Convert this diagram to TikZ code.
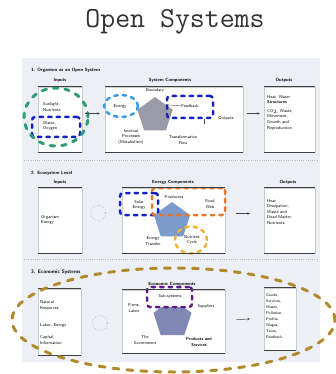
\documentclass[tikz,border=0pt]{standalone}
\usetikzlibrary{shapes.geometric,arrows.meta}
\definecolor{panel}{HTML}{EDEFF7}
\definecolor{hlgreen}{HTML}{2E9C74}
\definecolor{hlblue}{HTML}{1420C4}
\definecolor{hlsky}{HTML}{3A9BE8}
\definecolor{hlorange}{HTML}{E2782E}
\definecolor{hlyellow}{HTML}{F1B234}
\definecolor{hlpurple}{HTML}{5E1A8C}
\definecolor{hlgold}{HTML}{B08A2C}
\definecolor{pgrey}{HTML}{9A9AA8}
\definecolor{psteel}{HTML}{7B9BCB}
\definecolor{pslate}{HTML}{8088B4}
\tikzset{
  box/.style={draw=gray!40, fill=white, line width=0.4pt, inner sep=0pt},
  boxedge/.style={black!75, line width=0.9pt},
  hdr/.style={font=\sffamily\bfseries\fontsize{4.5}{5}\selectfont, inner sep=0pt},
  rowlbl/.style={font=\sffamily\bfseries\fontsize{4.6}{5}\selectfont, anchor=west, inner sep=0pt},
  txt/.style={font=\sffamily\fontsize{4.2}{5.6}\selectfont, align=left, inner sep=0pt},
  ctxt/.style={font=\sffamily\fontsize{4.2}{5.6}\selectfont, align=center, inner sep=0pt},
  pent/.style={regular polygon, regular polygon sides=5, inner sep=0pt, draw=none},
  hl/.style={line width=2.5pt, dash pattern=on 3.5pt off 5pt, line cap=round, inner sep=0pt},
  hlwide/.style={line width=3pt, dash pattern=on 4.5pt off 7pt, line cap=round, inner sep=0pt},
  arr/.style={-{Stealth[length=2.5pt,width=2.5pt]}, gray!55!black, line width=0.5pt},
  sep/.style={gray!55, line width=0.6pt, dash pattern=on 1pt off 1.2pt},
  cyc/.style={circle, draw=gray!60, dotted, line width=0.7pt, minimum size=15pt, inner sep=0pt}
}
\begin{document}
\begin{tikzpicture}[x=1pt,y=-1pt]
\useasboundingbox (0,0) rectangle (336,374);
\fill[white] (0,0) rectangle (336,374);
\node[font=\ttfamily\fontsize{29}{32}\selectfont, text=black!80, inner sep=0pt] (title) at (175,22) {Open Systems};
\fill[panel] (22,58) rectangle (320,362);
\draw[sep] (24,160) -- (318,160);
\draw[sep] (24,259) -- (318,259);

% ---------- Row 1 ----------
\node[rowlbl] (r1) at (31,70) {1. Organism as an Open System};
\node[hdr] (h1a) at (60,80) {Inputs};
\node[hdr] (h1b) at (170,80) {System Components};
\node[hdr] (h1c) at (284,80) {Outputs};
\node[box, minimum width=44pt, minimum height=65pt] (in1) at (60,119.5) {};
\node[box, minimum width=138pt, minimum height=65pt] (sc1) at (174,119.5) {};
\node[box, minimum width=51pt, minimum height=65pt] (out1) at (289.5,119.5) {};
\node[pent, fill=pgrey, minimum size=37pt] (pg1) at (155,115.5) {};
\node[txt, anchor=west] (i1a) at (43,107) {Sunlight,\\Nutrients};
\node[txt, anchor=west] (i1b) at (43,126) {Water,\\Oxygen};
\node[ctxt] (en1) at (120,106) {Energy};
\node[ctxt] (bd1) at (155,90) {Boundary};
\node[ctxt] (fb1) at (190,106) {Feedback};
\node[ctxt] (ot1) at (226,118) {Outputs};
\node[ctxt] (ip1) at (131,137) {Internal\\Processes\\(Metabolism)};
\node[ctxt] (tf1) at (183,140) {Transformation\\Flow};
\node[txt, anchor=north west] (o1t) at (267,95) {Heat, Water\\\textbf{Structures}\\[3pt]CO$_2$, Waste,\\Movement,\\Growth and\\Reproduction};
\coordinate (tk1) at (204,124);
\draw[black!70, line width=0.4pt] (pg1.north east) -- (fb1.west);
% highlights row 1
\node[ellipse, draw=hlsky, hl, minimum width=34pt, minimum height=22pt] (e1) at (121,106) {};
\node[rectangle, rounded corners=3pt, draw=hlblue, hl, minimum width=46pt, minimum height=22pt] (br1) at (190,107) {};
\draw[black!70, line width=0.5pt] (tk1 |- br1.south) -- (tk1);
\node[rectangle, rounded corners=3pt, draw=hlblue, hl, minimum width=48pt, minimum height=20pt] (bl1) at (56,127) {};
\node[ellipse, draw=hlgreen, hlwide, minimum width=64pt, minimum height=58pt] (g1) at (56,117) {};
\draw[arr, shorten <=3pt, shorten >=5pt] ([yshift=6pt]in1.east) -- ([yshift=6pt]sc1.west);
\draw[arr, shorten <=4pt, shorten >=4pt] ([yshift=6pt]sc1.east) -- ([yshift=6pt]out1.west);

% ---------- Row 2 ----------
\node[rowlbl] (r2) at (31,173) {2. Ecosystem Level};
\node[hdr] (h2a) at (60,182) {Inputs};
\node[hdr] (h2b) at (173,182) {Energy Components};
\node[hdr] (h2c) at (288,182) {Outputs};
\node[box, minimum width=44pt, minimum height=65pt] (in2) at (60,220.5) {};
\node[box, minimum width=103pt, minimum height=65pt] (sc2) at (173.5,220.5) {};
\node[box, minimum width=51pt, minimum height=65pt] (out2) at (289.5,220.5) {};
\node[pent, fill=psteel, minimum size=38pt] (pg2) at (172,221) {};
\node[txt, anchor=west] (i2a) at (41,220) {Organism\\Energy};
\node[ctxt] (sl2) at (139,205) {Solar\\Energy};
\node[ctxt] (pr2) at (174,197) {Producers};
\node[ctxt] (fw2) at (210,204) {Food\\Web};
\node[ctxt] (et2) at (153,241) {Energy\\Transfer};
\node[ctxt] (ec2) at (192,240) {Nutrient\\Cycle};
\node[txt, anchor=north west] (o2t) at (267,199) {Heat\\Dissipation,\\Waste and\\Dead Matter,\\Nutrients};
\node[rectangle, rounded corners=3pt, draw=hlblue, hl, minimum width=38pt, minimum height=22pt] (br2) at (139,204) {};
\node[rectangle, rounded corners=3pt, draw=hlorange, hl, minimum width=73pt, minimum height=27pt] (or2) at (188.5,201.5) {};
\node[ellipse, draw=hlyellow, hl, minimum width=32pt, minimum height=27pt] (yc2) at (191,240) {};
\node[cyc] (cy2) at (98,213) {};
\draw[arr, shorten <=11pt, shorten >=14pt] ([yshift=7pt]sc2.east) -- ([yshift=7pt]out2.west);

% ---------- Row 3 ----------
\node[rowlbl, font=\sffamily\bfseries\fontsize{5}{6}\selectfont] (r3) at (31,272) {3. Economic Systems};
\node[hdr] (h3b) at (172,284) {Economic Components};
\node[box, minimum width=43pt, minimum height=66pt] (in3) at (59.5,322) {};
\node[box, minimum width=103pt, minimum height=63pt] (sc3) at (173.5,321.5) {};
\node[box, minimum width=32pt, minimum height=62pt] (out3) at (280,319) {};
\node[pent, fill=pslate, minimum size=40pt] (pg3) at (172.5,319) {};
\node[rectangle, rounded corners=3pt, draw=hlpurple, fill=white, hl, minimum width=45pt, minimum height=20pt] (pr3) at (169.5,297) {};
\node[ctxt] (sb3) at (170,296) {Sub-systems};
\node[txt, anchor=west] (i3a) at (40,305) {Natural\\Resources};
\node[txt, anchor=west] (i3b) at (40,325) {Labor, Energy};
\node[txt, anchor=west] (i3c) at (40,340) {Capital,\\Information};
\node[ctxt] (ld3) at (134,308) {Firms,\\Labor};
\node[ctxt] (sp3) at (206,306) {Suppliers};
\node[ctxt] (gv3) at (145,340) {The\\Government};
\node[ctxt, font=\sffamily\bfseries\fontsize{4.2}{5.6}\selectfont] (pd3) at (199,342) {Products and\\Services};
\node[txt, anchor=north west, font=\sffamily\fontsize{3.9}{5.9}\selectfont] (o3t) at (266,294) {Goods,\\Services,\\Waste,\\Pollution,\\Profits,\\Wages,\\Taxes,\\Feedback};
\node[cyc] (cy3) at (100,323) {};
\draw[arr, shorten <=11pt, shorten >=14pt] ([yshift=1pt]sc3.east) -- ([yshift=1pt]out3.west);

% box top/bottom edges
\foreach \n in {in1,sc1,out1,in2,sc2,out2,in3,sc3,out3}{
  \draw[boxedge] (\n.north west) -- (\n.north east);
  \draw[boxedge] (\n.south west) -- (\n.south east);
}
% big ellipse round row 3
\node[ellipse, draw=hlgold, line width=3pt, dash pattern=on 6pt off 8pt, line cap=round, minimum width=323pt, minimum height=104pt, inner sep=0pt] (big3) at (173.5,320) {};
\end{tikzpicture}
\end{document}
